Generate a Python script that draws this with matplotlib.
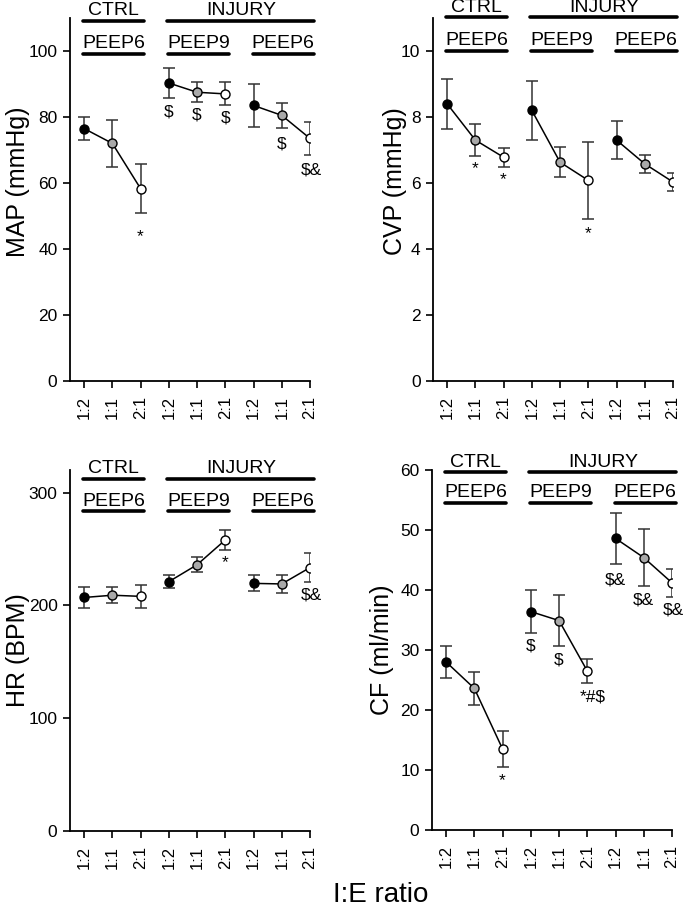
import numpy as np
import matplotlib
matplotlib.use("Agg")
import matplotlib.pyplot as plt
import matplotlib.transforms as mtransforms

plt.rcParams['font.family'] = ['Liberation Sans', 'DejaVu Sans']

# x categories (I:E ratio), three per condition group
tick_labels = ["1:2", "1:1", "2:1"] * 3
x_pos = np.arange(1, 10)
fills = ["k", "#a9a9a9", "w"]

# group headers: (text, first index, last index)
groups = [("CTRL", 1, 3), ("INJURY", 4, 9)]
subgroups = [("PEEP6", 1, 3), ("PEEP9", 4, 6), ("PEEP6", 7, 9)]

map_mean = [76.5, 72.0, 58.3, 90.3, 87.5, 87.0, 83.5, 80.5, 73.5]
map_err = [3.5, 7.0, 7.5, 4.5, 3.0, 3.5, 6.5, 3.7, 5.0]
map_marks = [(3, 43.8, "*"), (4, 81.5, "$"), (5, 80.6, "$"), (6, 79.7, "$"),
             (8, 71.8, "$"), (9.05, 64.0, "$&")]

cvp_mean = [8.4, 7.3, 6.78, 8.2, 6.63, 6.08, 7.3, 6.58, 6.03]
cvp_err = [0.75, 0.48, 0.29, 0.9, 0.46, 1.17, 0.58, 0.28, 0.26]
cvp_marks = [(2, 6.45, "*"), (3, 6.09, "*"), (6, 4.48, "*")]

hr_mean = [207, 209, 208, 221, 236, 258, 219.5, 219, 233.5]
hr_err = [9, 7, 10.5, 5.5, 6.5, 8.5, 7, 8, 12.5]
hr_marks = [(6, 238, "*"), (9.05, 209, "$&")]

cf_mean = [28.0, 23.6, 13.5, 36.4, 34.9, 26.5, 48.6, 45.4, 41.2]
cf_err = [2.7, 2.7, 3.0, 3.6, 4.3, 2.0, 4.3, 4.8, 2.3]
cf_marks = [(3, 8.2, "*"), (4, 30.7, "$"), (5, 28.3, "$"), (6.2, 22.2, "*#$"),
            (7, 41.7, "$&"), (8, 38.3, "$&"), (9.05, 36.7, "$&")]

fig = plt.figure(figsize=(6.85, 9.07), dpi=100)


def draw_panel(rect, mean, err, marks, ylim, yticks, ylabel, label_y, hdr_y):
    ax = fig.add_axes(rect)
    for g in range(3):
        sl = slice(3 * g, 3 * g + 3)
        ax.errorbar(x_pos[sl], mean[sl], yerr=err[sl], fmt="none",
                    ecolor="#333333", elinewidth=1.1, capsize=4, capthick=1.1,
                    zorder=2)
        ax.plot(x_pos[sl], mean[sl], color="k", lw=1.1, zorder=3)
        for i in range(3):
            ax.plot(x_pos[3 * g + i], mean[3 * g + i], "o", ms=6.5,
                    mfc=fills[i], mec="k", mew=1.0, zorder=4)
    for x, y, s in marks:
        ax.text(x, y, s, ha="center", va="center", fontsize=12.5)

    ax.set_xlim(0.5, 9)
    ax.set_ylim(*ylim)
    ax.set_yticks(yticks)
    ax.set_xticks(x_pos)
    ax.set_xticklabels(tick_labels, rotation=90, fontsize=12)
    ax.tick_params(axis="y", labelsize=12.5, length=5, width=1.2, pad=4)
    ax.tick_params(axis="x", length=5, width=1.2, pad=6)
    for side in ["top", "right"]:
        ax.spines[side].set_visible(False)
    for side in ["left", "bottom"]:
        ax.spines[side].set_linewidth(1.3)
    ax.set_ylabel(ylabel, fontsize=18)
    ax.yaxis.set_label_coords(label_y[0], label_y[1])

    # group / condition headers
    trans = mtransforms.blended_transform_factory(ax.transData, ax.transAxes)
    gt, gl, st, sl_ = hdr_y
    for name, a, b in groups:
        ax.text((a + b) / 2 + 0.05, gt, name, ha="center", va="center",
                fontsize=14, transform=trans, clip_on=False)
        ax.plot([a - 0.05, b + 0.13], [gl, gl], color="k", lw=2.6,
                transform=trans, clip_on=False, solid_capstyle="round")
    for name, a, b in subgroups:
        ax.text((a + b) / 2 + 0.05, st, name, ha="center", va="center",
                fontsize=14, transform=trans, clip_on=False)
        ax.plot([a - 0.03, b + 0.13], [sl_, sl_], color="k", lw=2.6,
                transform=trans, clip_on=False, solid_capstyle="round")
    return ax


W, H = 685.0, 907.0
draw_panel([70 / W, (H - 381) / H, 240 / W, 363 / H], map_mean, map_err,
           map_marks, (0, 110), [0, 20, 40, 60, 80, 100], "MAP (mmHg)",
           (-0.165, 0.55), (1.020, 0.993, 0.930, 0.902))
draw_panel([433 / W, (H - 381) / H, 240 / W, 363 / H], cvp_mean, cvp_err,
           cvp_marks, (0, 11), [0, 2, 4, 6, 8, 10], "CVP (mmHg)",
           (-0.108, 0.55), (1.028, 1.003, 0.939, 0.909))
draw_panel([70 / W, (H - 831) / H, 240 / W, 361 / H], hr_mean, hr_err,
           hr_marks, (0, 320), [0, 100, 200, 300], "HR (BPM)",
           (-0.165, 0.5), (1.003, 0.974, 0.912, 0.886))
draw_panel([432 / W, (H - 830) / H, 240 / W, 360 / H], cf_mean, cf_err,
           cf_marks, (0, 60), [0, 10, 20, 30, 40, 50, 60], "CF (ml/min)",
           (-0.158, 0.5), (1.021, 0.995, 0.937, 0.909))

fig.text(381 / W, 1 - 895 / H, "I:E ratio", ha="center", va="center",
         fontsize=20)

fig.savefig("out.png", dpi=100)
